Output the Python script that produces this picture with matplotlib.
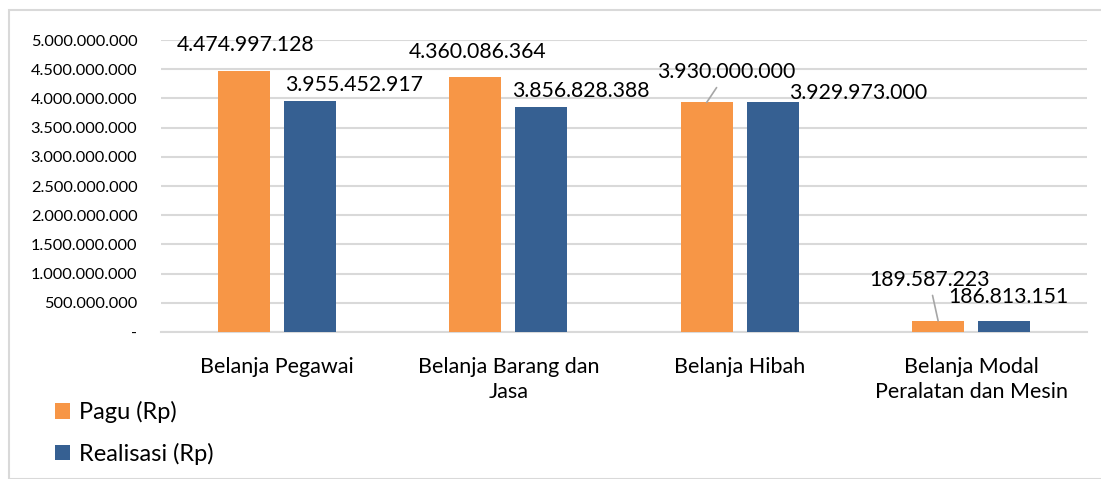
import matplotlib
matplotlib.use('Agg')
import matplotlib.pyplot as plt
import numpy as np
from matplotlib.ticker import FuncFormatter, MultipleLocator
from matplotlib.patches import Rectangle

# ---- data ----
categories = ['Belanja Pegawai', 'Belanja Barang dan\nJasa', 'Belanja Hibah',
              'Belanja Modal\nPeralatan dan Mesin']
pagu = [4474997128, 4360086364, 3930000000, 189587223]
realisasi = [3955452917, 3856828388, 3929973000, 186813151]
series_names = ['Pagu (Rp)', 'Realisasi (Rp)']

# ---- layout / style ----
plt.rcParams['font.family'] = ['Lato', 'DejaVu Sans']
C_PAGU = '#F79646'
C_REAL = '#366092'
GRID = '#d9d9d9'
W, H = 1101, 479
# manual data-label offsets in pixels (dx, dy) relative to top-centre of each bar
off_pagu = [(2, 26), (2, 25), (20, 30), (-9, 41)]
off_real = [(44, 16), (39, 16), (85, 9), (4, 24)]
leader_pagu = [False, False, True, True]


def idfmt(v, pos=None):
    if v == 0:
        return '-'
    return f'{int(round(v)):,}'.replace(',', '.')


fig = plt.figure(figsize=(W / 100, H / 100), dpi=100)
fig.patches.append(Rectangle((9 / W, 0), 1.2, 1 - 10 / H, transform=fig.transFigure,
                             fill=False, edgecolor=GRID, lw=1.5, zorder=0))

ax = fig.add_axes([161 / W, (H - 332) / H, (1087 - 161) / W, (332 - 40) / H])
x = np.arange(len(categories))
bw = 0.225
sh = 0.143
b1 = ax.bar(x - sh, pagu, bw, color=C_PAGU, label=series_names[0], zorder=3)
b2 = ax.bar(x + sh, realisasi, bw, color=C_REAL, label=series_names[1], zorder=3)

ax.set_xlim(-0.5, len(categories) - 0.5)
ax.set_ylim(0, 5e9)
ax.yaxis.set_major_locator(MultipleLocator(5e8))
ax.yaxis.set_major_formatter(FuncFormatter(idfmt))
ax.grid(axis='y', color=GRID, lw=1.5, zorder=0)
ax.set_axisbelow(True)
for s in ['top', 'right', 'left']:
    ax.spines[s].set_visible(False)
ax.spines['bottom'].set_color(GRID)
ax.spines['bottom'].set_linewidth(1.5)
ax.tick_params(axis='y', length=0, pad=17, labelsize=11.8, labelcolor='#000000')
ax.set_xticks(x)
ax.set_xticklabels(categories, fontsize=15.5, linespacing=1.3)
ax.tick_params(axis='x', length=0, pad=18, labelcolor='#000000')

for i in range(len(categories)):
    dx, dy = off_pagu[i]
    kw = {}
    if leader_pagu[i]:
        kw['arrowprops'] = dict(arrowstyle='-', color='#a6a6a6', lw=1.2,
                                shrinkA=2, shrinkB=0)
    ax.annotate(idfmt(pagu[i]), xy=(x[i] - sh, pagu[i]), xytext=(dx, dy),
                textcoords='offset pixels', ha='center', va='center',
                fontsize=15.3, color='#000000', zorder=5, **kw)
    dx, dy = off_real[i]
    ax.annotate(idfmt(realisasi[i]), xy=(x[i] + sh, realisasi[i]), xytext=(dx, dy),
                textcoords='offset pixels', ha='center', va='center',
                fontsize=15.3, color='#000000', zorder=5)

leg = fig.legend(handles=[b1, b2], labels=series_names, loc='upper left',
                 bbox_to_anchor=(34 / W, 1 - 380 / H), frameon=False,
                 fontsize=17, handlelength=0.64, handleheight=0.64,
                 handletextpad=0.35, labelspacing=0.82)

fig.savefig('out.png', dpi=100)
